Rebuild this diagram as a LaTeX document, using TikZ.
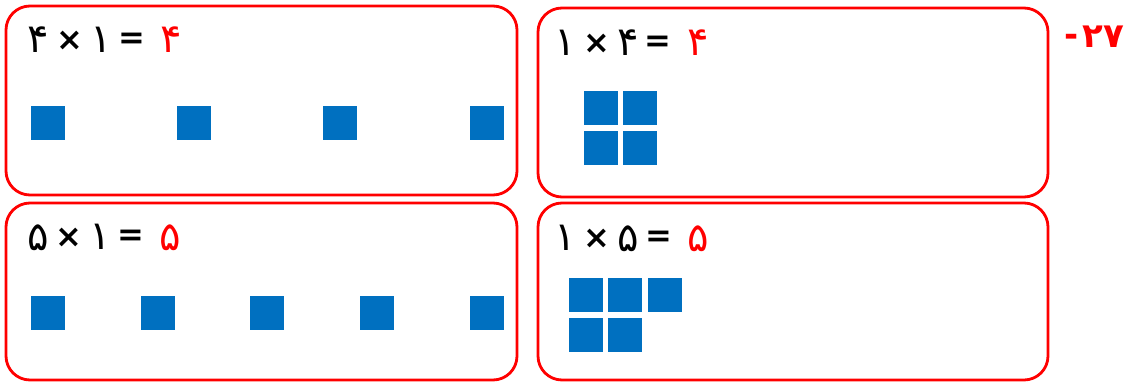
\documentclass[tikz,border=0pt]{standalone}
\usepackage{fontspec}
\newfontfamily\fafont[Script=Arabic]{DejaVu Sans}
\definecolor{sqblue}{HTML}{0070C0}
\begin{document}
\begin{tikzpicture}[x=1pt,y=-1pt,
  frame/.style={draw=red,line width=2.8pt,rounded corners=24pt},
  sq/.style={fill=sqblue},
  glyph/.style={inner sep=0pt,font=\fafont\fontsize{40}{42}\selectfont},
  ans/.style={glyph,text=red},
  sym/.style={inner sep=0pt,font=\fafont\bfseries\fontsize{32}{34}\selectfont},
  labstyle/.style={inner sep=0pt,text=red,font=\fafont\bfseries\fontsize{34}{36}\selectfont}]
\useasboundingbox (0,0) rectangle (1134,383);
% frames
\draw[frame] (6,6) rectangle (517,195);
\draw[frame] (538,8) rectangle (1048,197);
\draw[frame] (6,203) rectangle (517,380);
\draw[frame] (538,203) rectangle (1048,380);
% box 1
\node[glyph] (a1) at (38,40) {۴};
\node[sym]   (a2) at (70,41) {×};
\node[glyph] (a3) at (101,40) {۱};
\node[sym]   (a4) at (132,41) {=};
\node[ans]   (a5) at (171,40) {۴};
\foreach \x in {31,177,323,470} \fill[sq] (\x,106) rectangle ++(34,34);
% box 2
\node[glyph] (b1) at (565,43) {۱};
\node[sym]   (b2) at (597,44) {×};
\node[glyph] (b3) at (628,43) {۴};
\node[sym]   (b4) at (658,44) {=};
\node[ans]   (b5) at (698,43) {۴};
\fill[sq] (584,91) rectangle ++(34,34);
\fill[sq] (623,91) rectangle ++(34,34);
\fill[sq] (584,131) rectangle ++(34,34);
\fill[sq] (623,131) rectangle ++(34,34);
% box 3
\node[glyph] (c1) at (38,238) {۵};
\node[sym]   (c2) at (69,238) {×};
\node[glyph] (c3) at (100,237) {۱};
\node[sym]   (c4) at (131,238) {=};
\node[ans]   (c5) at (170,238) {۵};
\foreach \x in {31,141,250,360,470} \fill[sq] (\x,296) rectangle ++(34,34);
% box 4
\node[glyph] (d1) at (565,238) {۱};
\node[sym]   (d2) at (597,239) {×};
\node[glyph] (d3) at (628,239) {۵};
\node[sym]   (d4) at (659,239) {=};
\node[ans]   (d5) at (698,239) {۵};
\fill[sq] (569,278) rectangle ++(34,34);
\fill[sq] (608,278) rectangle ++(34,34);
\fill[sq] (648,278) rectangle ++(34,34);
\fill[sq] (569,318) rectangle ++(34,34);
\fill[sq] (608,318) rectangle ++(34,34);
% label
\node[labstyle] (lab) at (1103,37) {۲۷};
\node[labstyle] (dash) at (1072,40) {-};
\end{tikzpicture}
\end{document}
